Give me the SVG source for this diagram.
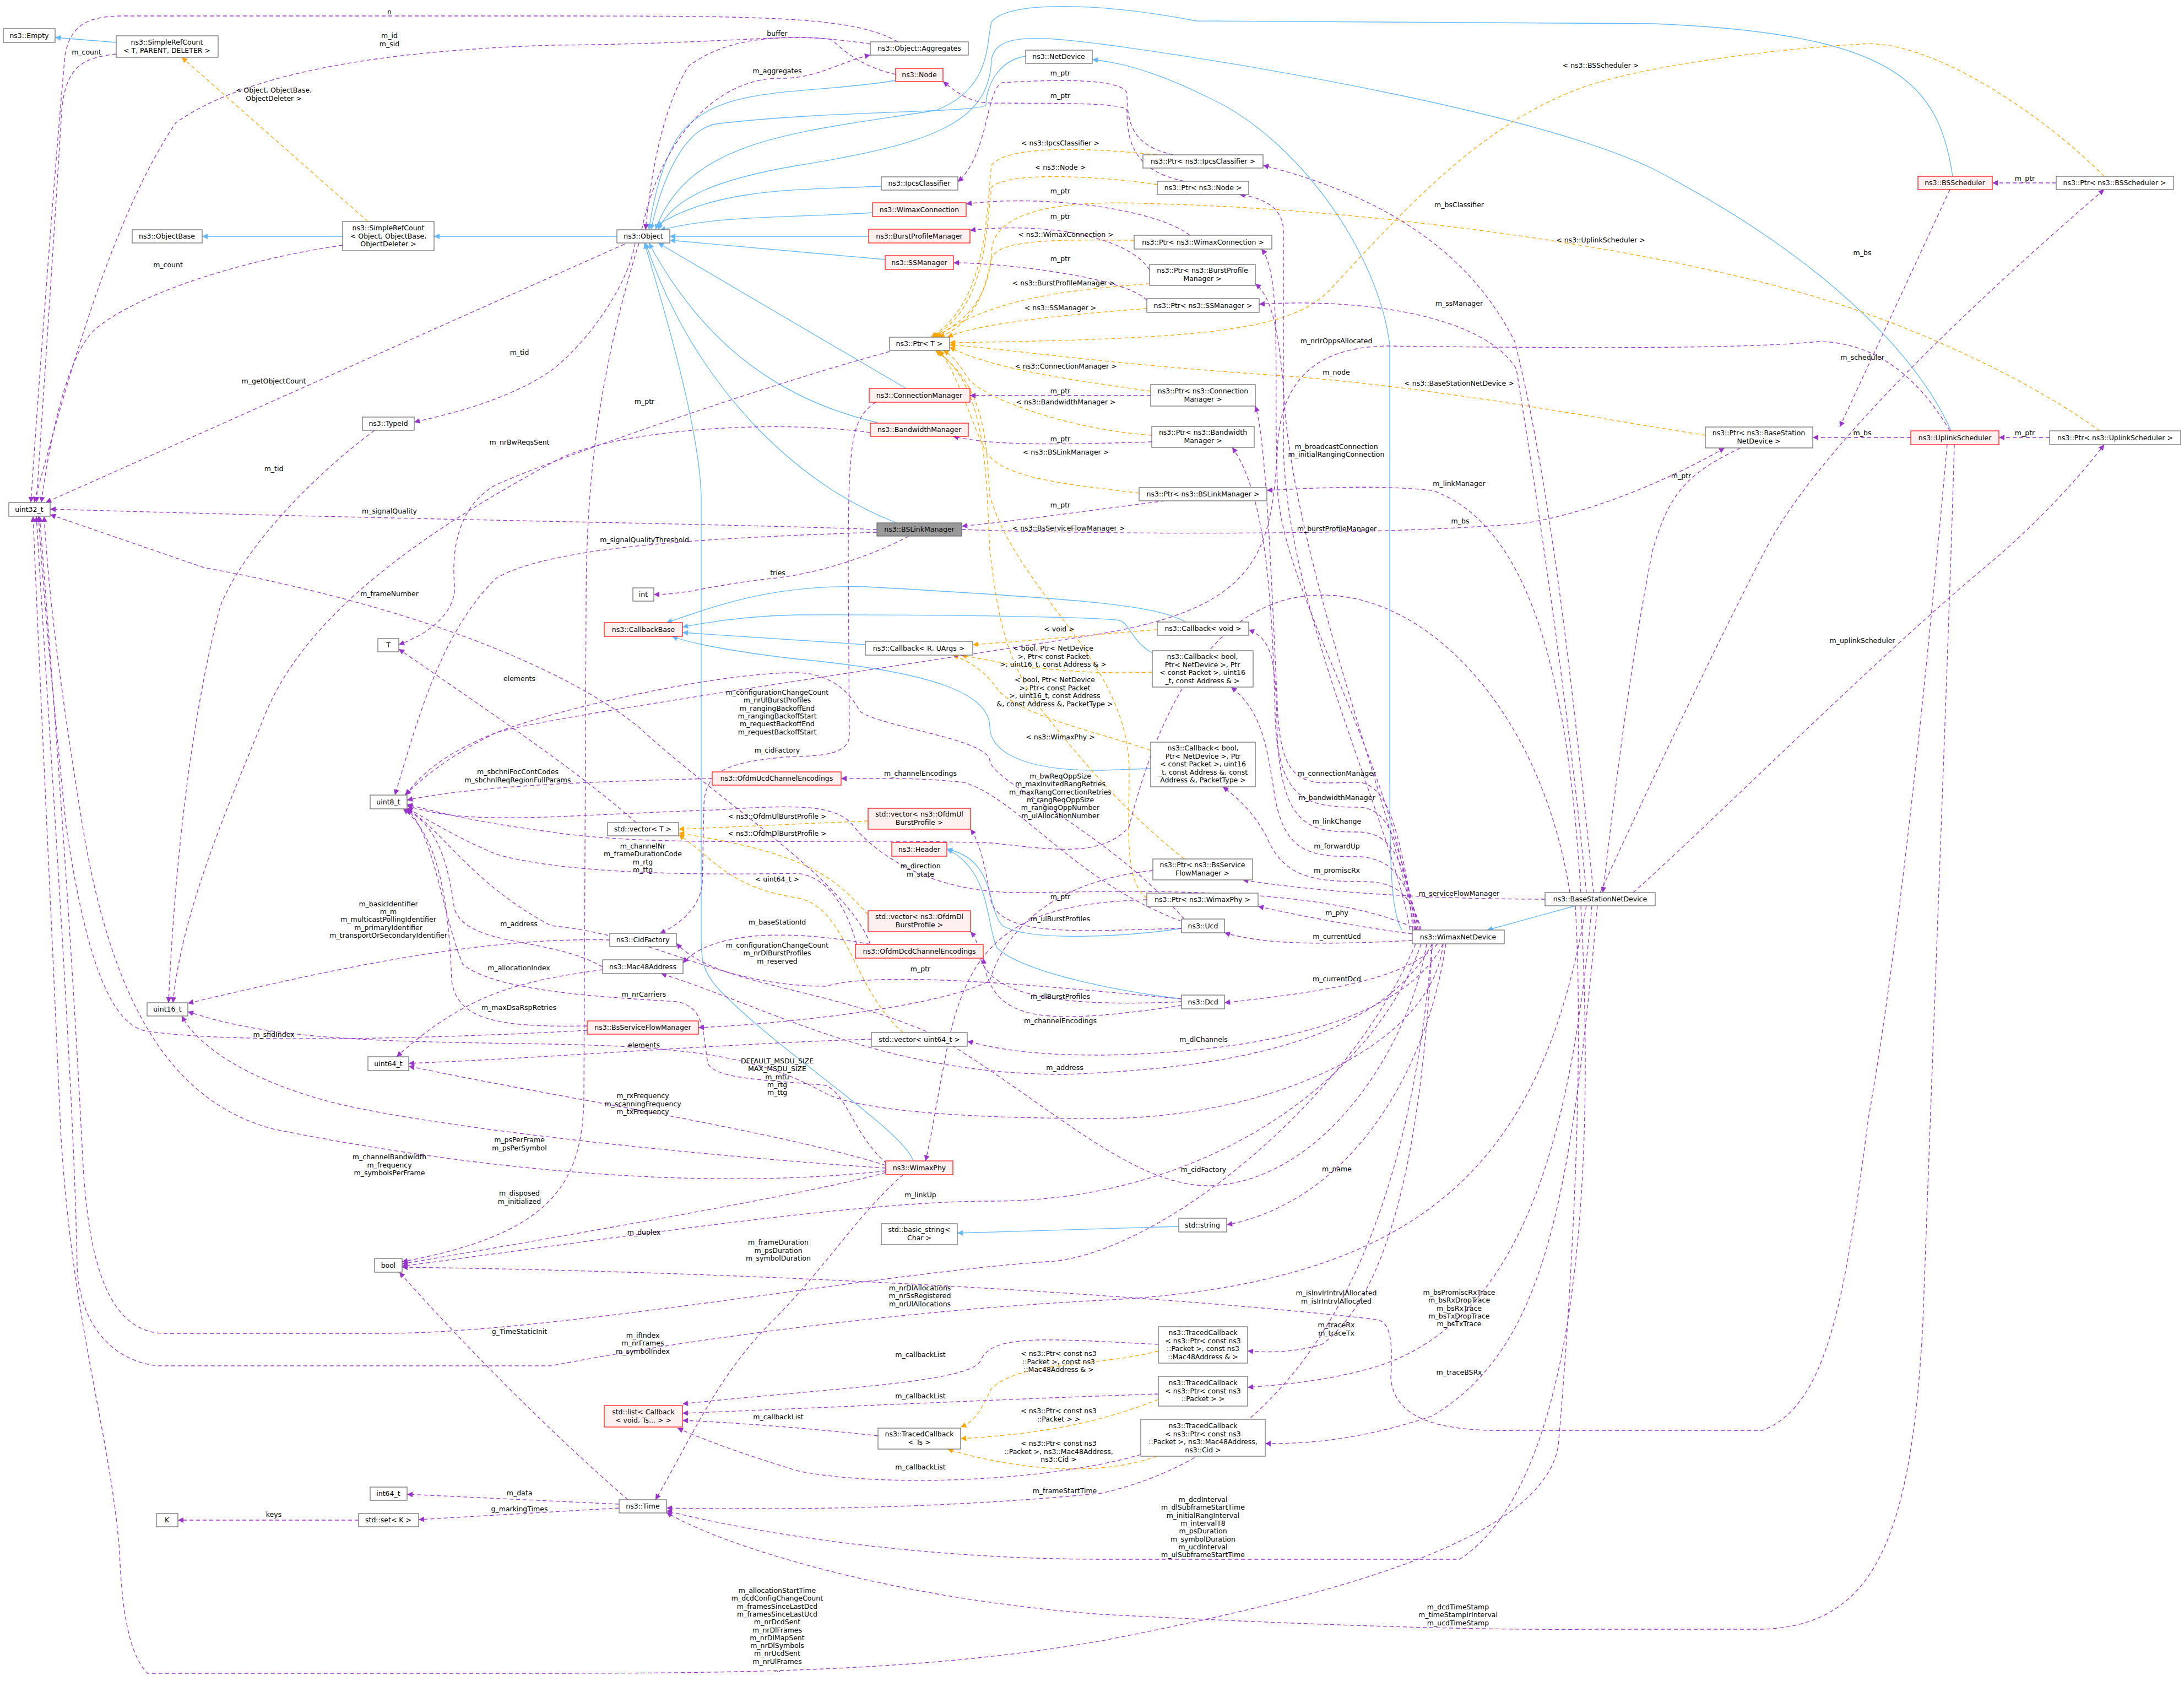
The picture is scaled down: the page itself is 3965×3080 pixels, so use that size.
<svg xmlns="http://www.w3.org/2000/svg" width="3965" height="3080" viewBox="0 0 3965 3080">
<style>
text{font-family:"DejaVu Sans","Liberation Sans",sans-serif;font-size:12.5px;fill:#000;text-anchor:middle}
.nd{fill:#fff;stroke:#666;stroke-width:1.2}
.rd{fill:#fff0f0;stroke:#f00;stroke-width:1.2}
.gy{fill:#999;stroke:#666;stroke-width:1.2}
.e{fill:none;stroke-width:1.3}
.b{stroke:#63b8ff;marker-end:url(#mb)}
.p{stroke:#9a32cd;stroke-dasharray:7,5;marker-end:url(#mp)}
.o{stroke:#ffa500;stroke-dasharray:7,5;marker-end:url(#mo)}
</style>
<defs>
<marker id="mb" viewBox="0 0 10 10" refX="10" refY="5" markerWidth="14" markerHeight="10" markerUnits="userSpaceOnUse" orient="auto"><path d="M0,0L10,5L0,10z" fill="#63b8ff"/></marker>
<marker id="mp" viewBox="0 0 10 10" refX="10" refY="5" markerWidth="14" markerHeight="10" markerUnits="userSpaceOnUse" orient="auto"><path d="M0,0L10,5L0,10z" fill="#9a32cd"/></marker>
<marker id="mo" viewBox="0 0 10 10" refX="10" refY="5" markerWidth="14" markerHeight="10" markerUnits="userSpaceOnUse" orient="auto"><path d="M0,0L10,5L0,10z" fill="#ffa500"/></marker>
</defs>
<rect width="3965" height="3080" fill="#fff"/>
<g id="connectors">
<path class="e b" d="M211,77 L100,68"/>
<path class="e b" d="M622,429 L367,429"/>
<path class="e b" d="M1120,429 L788,429"/>
<path class="e b" d="M1626,146 C1450,175 1300,150 1230,250 C1200,300 1185,370 1178,417"/>
<path class="e b" d="M1862,102 C1810,110 1790,160 1790,190 C1790,205 1500,200 1300,225 C1240,235 1200,330 1182,417"/>
<path class="e b" d="M2545,1688 C2528,1660 2523,1600 2523,1400 L2523,625 C2500,450 2350,250 2200,180 C2120,140 2050,115 1983,108"/>
<path class="e b" d="M3545,320 C3520,150 3440,60 3000,43 L2172,38 C2000,5 1830,0 1800,40 C1790,80 1800,160 1700,200 C1450,240 1250,250 1190,417"/>
<path class="e b" d="M3542,782 C3480,640 3300,460 3000,306 C2800,210 2300,120 2000,80 C1880,65 1805,60 1800,110 C1795,220 1700,260 1450,300 C1300,325 1220,360 1195,417"/>
<path class="e b" d="M1600,338 C1450,345 1300,340 1191,410"/>
<path class="e b" d="M1584,386 C1450,395 1300,390 1198,418"/>
<path class="e b" d="M1577,429 L1216,429"/>
<path class="e b" d="M1607,471 L1216,436"/>
<path class="e b" d="M1645,705 L1195,441"/>
<path class="e b" d="M1593,767 C1446,733 1290,650 1178,441"/>
<path class="e b" d="M1628,949 C1446,880 1260,700 1172,441"/>
<path class="e b" d="M1658,2107 C1640,2050 1400,1900 1300,1790 C1275,1760 1273,1740 1273,1700 L1273,900 C1270,800 1230,640 1170,441"/>
<path class="e b" d="M2145,1685 C2050,1700 1870,1710 1820,1680 C1790,1650 1810,1560 1719,1541"/>
<path class="e b" d="M2145,1813 C2000,1795 1850,1760 1810,1720 C1790,1680 1800,1580 1719,1541"/>
<path class="e b" d="M1571,1170 L1239,1148"/>
<path class="e b" d="M2153,1129 C2100,1100 2000,1089 1574,1065 C1400,1060 1300,1100 1210,1130"/>
<path class="e b" d="M2092,1185 C2055,1165 2050,1130 2032,1126 C2000,1120 1700,1115 1446,1116 C1350,1118 1280,1130 1239,1138"/>
<path class="e b" d="M2089,1395 L2000,1398 C1850,1400 1797,1360 1797,1320 C1797,1260 1700,1220 1446,1196 C1350,1185 1260,1170 1220,1155"/>
<path class="e b" d="M2860,1644 L2700,1688"/>
<path class="e b" d="M2140,2226 L1738,2238"/>
<path class="e o" d="M668,402 L330,104"/>
<path class="e o" d="M2100,281 C2000,270 1830,260 1800,300 C1790,400 1790,550 1690,612"/>
<path class="e o" d="M2101,335 C2000,320 1830,310 1800,340 C1790,420 1790,560 1692,612"/>
<path class="e o" d="M2059,436 C1950,436 1810,430 1800,470 C1790,540 1760,580 1695,612"/>
<path class="e o" d="M2087,515 C1950,525 1800,540 1700,612"/>
<path class="e o" d="M2082,560 C1950,570 1780,585 1720,612"/>
<path class="e o" d="M3820,320 C3700,200 3500,70 3380,80 C3200,90 3000,120 2900,150 C2700,210 2550,380 2420,520 C2350,600 2200,615 1724,622"/>
<path class="e o" d="M3812,782 C3700,700 3500,600 3300,540 C3000,450 2500,380 2100,370 C1900,360 1800,390 1800,460 C1790,540 1760,590 1705,612"/>
<path class="e o" d="M3096,790 C2900,760 2600,700 2300,680 C2000,660 1800,630 1724,626"/>
<path class="e o" d="M2089,710 C1950,690 1800,670 1724,630"/>
<path class="e o" d="M2091,790 C1950,780 1800,730 1760,690 C1740,660 1730,645 1712,636"/>
<path class="e o" d="M2068,895 C1950,880 1820,870 1790,820 C1760,760 1740,680 1705,636"/>
<path class="e o" d="M2150,1559 C2050,1480 1980,1400 1900,1300 C1820,1200 1810,1100 1797,1000 C1790,850 1790,700 1700,636"/>
<path class="e o" d="M2082,1630 C2040,1600 2050,1500 2050,1400 C2050,1200 1850,1080 1797,900 C1790,800 1790,700 1698,636"/>
<path class="e o" d="M2101,1143 C2000,1150 1850,1165 1766,1170"/>
<path class="e o" d="M2092,1220 C1950,1225 1850,1210 1745,1189"/>
<path class="e o" d="M2089,1362 C2000,1330 1850,1300 1810,1250 C1790,1220 1760,1200 1730,1189"/>
<path class="e o" d="M1576,1490 L1232,1505"/>
<path class="e o" d="M1576,1660 C1520,1600 1480,1550 1232,1512"/>
<path class="e o" d="M1640,1874 C1550,1800 1540,1650 1450,1630 C1320,1610 1300,1560 1232,1515"/>
<path class="e o" d="M2103,2452 C2000,2480 1850,2470 1800,2520 C1780,2560 1770,2580 1744,2590"/>
<path class="e o" d="M2103,2540 C2050,2560 1950,2600 1744,2611"/>
<path class="e o" d="M2100,2643 C2000,2680 1850,2670 1720,2630"/>
<path class="e p" d="M1630,76 C1550,30 1400,29 1000,29 L223,29 C160,29 128,45 118,100 C100,300 70,700 56,912"/>
<path class="e p" d="M1626,135 C1560,120 1530,90 1510,72 C1450,60 1300,80 1000,82 C700,92 450,130 319,223 C200,400 120,700 62,912"/>
<path class="e p" d="M211,98 C150,105 120,120 112,200 C100,400 80,700 66,912"/>
<path class="e p" d="M622,445 C450,470 250,530 170,600 C120,650 90,800 75,912"/>
<path class="e p" d="M1134,443 L83,912"/>
<path class="e p" d="M1153,441 C1140,520 1064,625 1000,673 C940,715 850,745 752,766"/>
<path class="e p" d="M680,781 C560,870 440,1000 400,1100 C360,1250 320,1500 306,1820"/>
<path class="e p" d="M1580,785 C1400,760 1100,780 1000,841 C800,950 560,1100 480,1300 C420,1450 330,1650 314,1820"/>
<path class="e p" d="M1615,638 C1383,701 1000,835 900,880 C830,920 820,1000 825,1060 C830,1110 780,1150 724,1170"/>
<path class="e p" d="M1592,961 C1300,950 800,945 91,924"/>
<path class="e p" d="M1592,966 C1300,976 1000,990 900,1050 C800,1150 760,1300 717,1443"/>
<path class="e p" d="M1650,973 C1600,1000 1500,1040 1400,1050 C1300,1060 1250,1079 1187,1079"/>
<path class="e p" d="M1580,1714 C1540,1600 1300,1450 1160,1320 C1050,1230 800,1110 370,1030 L91,934"/>
<path class="e p" d="M1590,730 C1545,760 1540,800 1540,1030 L1542,1336 C1540,1380 1450,1370 1415,1375 C1319,1385 1281,1400 1278,1460 L1275,1604 C1270,1650 1230,1680 1198,1694"/>
<path class="e p" d="M2590,1713 C2560,1900 2400,2150 2191,2152 C2050,2150 1900,2000 1700,1880 C1500,1790 1300,1790 1228,1712"/>
<path class="e p" d="M2150,1668 C2000,1500 1800,1420 1797,1380 C1790,1340 1600,1320 1561,1291 C1540,1250 1500,1221 1446,1221 C1300,1220 1000,1290 900,1330 C800,1380 760,1420 735,1443"/>
<path class="e p" d="M1293,1413 C1000,1420 850,1430 739,1452"/>
<path class="e p" d="M1555,1714 C1536,1642 1500,1590 1446,1585 C1200,1590 1000,1580 900,1550 C829,1520 780,1490 739,1466"/>
<path class="e p" d="M2575,1688 C2400,1600 2000,1620 1850,1620 C1700,1620 1600,1560 1550,1500 C1520,1460 1450,1460 1300,1470 C1000,1480 850,1500 739,1462"/>
<path class="e p" d="M1107,1706 C870,1700 600,1760 341,1821"/>
<path class="e p" d="M1094,1755 C1000,1700 850,1720 825,1650 C815,1580 800,1500 735,1468"/>
<path class="e p" d="M1094,1760 C950,1780 850,1800 720,1918"/>
<path class="e p" d="M1066,1862 C900,1865 830,1850 820,1780 C815,1650 800,1520 732,1468"/>
<path class="e p" d="M1066,1870 C800,1885 400,1895 260,1870 C190,1850 150,1700 120,1500 C100,1300 80,1100 70,937"/>
<path class="e p" d="M2600,1713 C2500,1900 2200,1940 1933,1950 C1600,1950 1400,1830 1200,1767"/>
<path class="e p" d="M1155,1493 C1050,1400 900,1300 724,1178"/>
<path class="e p" d="M1582,1886 C1300,1895 1000,1920 742,1930"/>
<path class="e p" d="M1610,2112 C1550,2060 1540,1990 1500,1970 C1400,1960 1300,1960 1285,1930 C1275,1870 1280,1830 1230,1818 C1100,1810 900,1800 840,1750 C800,1650 790,1520 739,1468"/>
<path class="e p" d="M2620,1713 C2600,1900 2300,2030 2000,2030 C1700,2030 1550,2010 1500,1985 C1400,1930 1300,1900 1000,1895 C700,1890 500,1890 341,1836"/>
<path class="e p" d="M1608,2115 C1400,2050 1000,1990 742,1935"/>
<path class="e p" d="M1608,2120 C1300,2100 800,2050 600,2000 C450,1960 360,1900 330,1844"/>
<path class="e p" d="M1608,2125 C1300,2160 900,2130 500,2050 C300,2000 200,1800 150,1500 C110,1250 90,1100 80,937"/>
<path class="e p" d="M1160,441 C1080,700 1064,900 1064,1100 L1060,2000 C1055,2150 1000,2240 730,2290"/>
<path class="e p" d="M1608,2128 C1500,2160 1100,2230 730,2294"/>
<path class="e p" d="M2580,1713 C2500,1950 2200,2180 1800,2180 C1550,2180 1100,2250 730,2298"/>
<path class="e p" d="M1640,2132 C1560,2200 1500,2300 1400,2400 C1300,2500 1250,2620 1190,2722"/>
<path class="e p" d="M1140,2722 C1000,2600 850,2450 725,2309"/>
<path class="e p" d="M2880,1644 C2800,2100 2600,2330 2000,2360 C1600,2380 1200,2440 1000,2479 L287,2479 C200,2470 145,2400 140,2300 C135,2000 100,1500 66,937"/>
<path class="e p" d="M2570,1713 C2450,2000 2100,2280 1900,2290 C1600,2310 1000,2420 700,2420 L300,2420 C200,2420 160,2300 150,2100 C130,1700 100,1300 72,937"/>
<path class="e p" d="M2103,2440 C1900,2430 1800,2420 1780,2470 C1760,2510 1500,2520 1239,2548"/>
<path class="e p" d="M2103,2530 C1800,2540 1500,2555 1239,2565"/>
<path class="e p" d="M1594,2606 C1450,2590 1300,2580 1239,2578"/>
<path class="e p" d="M2071,2640 C1900,2690 1600,2700 1450,2670 C1350,2640 1270,2610 1230,2592"/>
<path class="e p" d="M2600,1713 C2560,2200 2400,2620 2000,2710 C1700,2740 1400,2740 1210,2737"/>
<path class="e p" d="M2860,1644 C2880,2000 2840,2500 2829,2624 C2800,2800 2400,2900 2000,2978 C1700,3030 1400,3037 1000,3037 L268,3037 C230,3000 220,2900 217,2815 C200,2600 130,2400 110,2050 C95,1700 75,1300 60,937"/>
<path class="e p" d="M3548,807 C3540,1100 3520,1600 3491,2400 C3470,2800 3400,2950 3200,2957 L2900,2957 C2600,2960 2200,2940 2000,2930 C1600,2900 1300,2800 1210,2745"/>
<path class="e p" d="M3535,807 C3500,1200 3450,1700 3392,2030 C3350,2350 3320,2550 3200,2596 L2752,2596 C2600,2600 2530,2570 2525,2500 C2530,2420 2520,2400 2500,2395 C2200,2360 1500,2310 730,2300"/>
<path class="e p" d="M3540,782 C3480,680 3400,620 3300,620 C3200,630 3000,634 2517,628 C2400,630 2330,680 2320,800 C2310,1000 2290,1100 2000,1150 C1500,1230 1000,1300 900,1330 C800,1370 760,1410 737,1443"/>
<path class="e p" d="M3540,344 L3340,775"/>
<path class="e p" d="M3469,794 L3291,794"/>
<path class="e p" d="M3733,332 L3617,332"/>
<path class="e p" d="M3721,794 L3629,794"/>
<path class="e p" d="M2905,1620 C2960,1500 3100,1200 3204,1000 C3280,850 3500,620 3820,344"/>
<path class="e p" d="M2965,1620 C3100,1500 3400,1200 3603,1030 C3700,950 3780,860 3820,807"/>
<path class="e p" d="M3160,813 C3060,860 3029,899 3000,1000 C2960,1200 2930,1450 2910,1620"/>
<path class="e p" d="M1746,961 C2000,970 2500,973 2765,950 C2900,930 3050,860 3131,813"/>
<path class="e p" d="M2893,1620 C2860,1300 2820,900 2750,620 C2650,420 2450,340 2293,300"/>
<path class="e p" d="M2880,1620 C2850,1300 2790,900 2753,670 C2700,580 2500,540 2286,552"/>
<path class="e p" d="M2560,1688 C2530,1500 2330,1100 2330,800 L2330,420 C2330,380 2300,360 2250,353"/>
<path class="e p" d="M2565,1688 C2540,1400 2340,1100 2320,900 C2310,700 2330,500 2290,452"/>
<path class="e p" d="M2870,1620 C2850,1300 2800,960 2600,890 C2500,880 2400,885 2300,890"/>
<path class="e p" d="M2568,1688 C2540,1500 2340,1000 2330,700 C2320,600 2310,540 2279,515"/>
<path class="e p" d="M2570,1688 C2540,1500 2520,1430 2470,1420 C2380,1420 2330,1440 2320,1300 C2310,1100 2300,800 2279,737"/>
<path class="e p" d="M2572,1688 C2540,1520 2520,1470 2470,1465 C2380,1465 2320,1460 2315,1300 C2310,1100 2300,900 2237,812"/>
<path class="e p" d="M2575,1688 C2545,1540 2520,1515 2470,1510 C2380,1510 2320,1510 2318,1300 C2315,1200 2310,1160 2267,1143"/>
<path class="e p" d="M2578,1688 C2550,1580 2520,1560 2470,1555 C2380,1555 2335,1550 2315,1450 C2300,1350 2290,1290 2235,1247"/>
<path class="e p" d="M2580,1688 C2560,1610 2520,1600 2470,1600 C2380,1600 2330,1590 2300,1520 C2280,1480 2250,1450 2220,1428"/>
<path class="e p" d="M2805,1632 C2600,1632 2400,1620 2256,1597"/>
<path class="e p" d="M2564,1695 C2450,1680 2350,1660 2284,1645"/>
<path class="e p" d="M2564,1707 C2400,1715 2300,1715 2223,1693"/>
<path class="e p" d="M2610,1713 C2550,1780 2400,1800 2223,1820"/>
<path class="e p" d="M2620,1713 C2550,1850 2300,1910 2000,1915 C1850,1915 1800,1900 1756,1890"/>
<path class="e p" d="M2082,1633 C1850,1640 1760,1700 1720,1900 C1700,2000 1690,2070 1680,2107"/>
<path class="e p" d="M2145,1685 C1950,1690 1830,1700 1800,1640 C1790,1580 1780,1530 1762,1505"/>
<path class="e p" d="M2093,1580 C1900,1600 1820,1700 1797,1780 C1700,1830 1400,1860 1268,1865"/>
<path class="e p" d="M2145,1818 C1900,1830 1800,1800 1780,1740 C1775,1710 1770,1700 1762,1691"/>
<path class="e p" d="M2145,1825 C1900,1860 1800,1860 1785,1739"/>
<path class="e p" d="M2145,1672 C1950,1600 1850,1450 1750,1420 C1650,1410 1580,1413 1527,1413"/>
<path class="e p" d="M2850,1620 C2800,1300 2600,1080 2400,1080 C2200,1080 2100,1300 2050,1500 C2000,1560 1900,1540 1800,1530 C1500,1520 1200,1540 1000,1510 C850,1490 800,1475 739,1460"/>
<path class="e p" d="M1580,1714 C1400,1680 1280,1700 1240,1748"/>
<path class="e p" d="M2145,1813 C1900,1790 1600,1760 1500,1790 C1300,1790 1200,1700 1000,1680 C850,1600 800,1500 737,1468"/>
<path class="e p" d="M2130,281 C2060,265 2046,230 2046,170 C2040,140 1900,145 1820,150 C1790,160 1795,280 1739,330"/>
<path class="e p" d="M2150,329 C2060,310 2046,260 2046,200 C2040,185 1900,188 1800,187 C1760,186 1740,170 1712,148"/>
<path class="e p" d="M2160,427 C2100,380 1900,352 1754,370"/>
<path class="e p" d="M2087,490 C2050,430 1900,402 1761,418"/>
<path class="e p" d="M2082,545 C2040,500 1800,476 1731,477"/>
<path class="e p" d="M2089,718 L1761,718"/>
<path class="e p" d="M2091,802 C1900,808 1800,808 1730,792"/>
<path class="e p" d="M2115,909 C1950,930 1850,945 1746,955"/>
<path class="e p" d="M1580,80 C1450,60 1330,60 1250,120 C1200,200 1180,330 1172,417"/>
<path class="e p" d="M1165,417 C1200,250 1300,145 1411,142 C1480,145 1530,110 1580,100"/>
<path class="e p" d="M1124,2737 L760,2758"/>
<path class="e p" d="M1124,2730 L739,2712"/>
<path class="e p" d="M651,2759 L323,2759"/>
<path class="e p" d="M2870,1644 C2900,2200 2850,2700 2650,2830 L2000,2830 C1700,2830 1400,2790 1210,2742"/>
<path class="e p" d="M2890,1644 C2850,2100 2750,2400 2500,2480 C2400,2510 2300,2515 2265,2518"/>
<path class="e p" d="M2900,1644 C2850,2200 2800,2450 2600,2570 C2450,2620 2350,2620 2297,2620"/>
<path class="e p" d="M2600,1713 C2580,2100 2520,2350 2400,2440 C2350,2455 2300,2455 2265,2452"/>
<path class="e p" d="M2625,1713 C2590,1950 2450,2180 2227,2223"/>
</g>
<g id="labels">
<text x="707" y="26">n</text>
<text x="707" y="69">m_id<tspan x="707" dy="14.5">m_sid</tspan></text>
<text x="157" y="99">m_count</text>
<text x="497" y="168">&lt; Object, ObjectBase,<tspan x="497" dy="14.5">ObjectDeleter &gt;</tspan></text>
<text x="305" y="485">m_count</text>
<text x="497" y="696">m_getObjectCount</text>
<text x="943" y="644">m_tid</text>
<text x="497" y="855">m_tid</text>
<text x="943" y="807">m_nrBwReqsSent</text>
<text x="1170" y="733">m_ptr</text>
<text x="707" y="932">m_signalQuality</text>
<text x="1170" y="984">m_signalQualityThreshold</text>
<text x="1412" y="1044">tries</text>
<text x="707" y="1082">m_frameNumber</text>
<text x="1411" y="1366">m_cidFactory</text>
<text x="2185" y="2127">m_cidFactory</text>
<text x="1411" y="1261">m_configurationChangeCount<tspan x="1411" dy="14.3">m_nrUlBurstProfiles</tspan><tspan x="1411" dy="14.3">m_rangingBackoffEnd</tspan><tspan x="1411" dy="14.3">m_rangingBackoffStart</tspan><tspan x="1411" dy="14.3">m_requestBackoffEnd</tspan><tspan x="1411" dy="14.3">m_requestBackoffStart</tspan></text>
<text x="940" y="1405">m_sbchnlFocContCodes<tspan x="940" dy="14.5">m_sbchnlReqRegionFullParams</tspan></text>
<text x="1167" y="1540">m_channelNr<tspan x="1167" dy="14.3">m_frameDurationCode</tspan><tspan x="1167" dy="14.3">m_rtg</tspan><tspan x="1167" dy="14.3">m_ttg</tspan></text>
<text x="1671" y="1576">m_direction<tspan x="1671" dy="14.5">m_state</tspan></text>
<text x="705" y="1645">m_basicIdentifier<tspan x="705" dy="14.2">m_m</tspan><tspan x="705" dy="14.2">m_multicastPollingIdentifier</tspan><tspan x="705" dy="14.2">m_primaryIdentifier</tspan><tspan x="705" dy="14.2">m_transportOrSecondaryIdentifier</tspan></text>
<text x="942" y="1681">m_address</text>
<text x="942" y="1761">m_allocationIndex</text>
<text x="942" y="1833">m_maxDsaRspRetries</text>
<text x="497" y="1882">m_sfidIndex</text>
<text x="1933" y="1942">m_address</text>
<text x="943" y="1236">elements</text>
<text x="1169" y="1901">elements</text>
<text x="1169" y="1809">m_nrCarriers</text>
<text x="1411" y="1930">DEFAULT_MSDU_SIZE<tspan x="1411" dy="14.3">MAX_MSDU_SIZE</tspan><tspan x="1411" dy="14.3">m_mtu</tspan><tspan x="1411" dy="14.3">m_rtg</tspan><tspan x="1411" dy="14.3">m_ttg</tspan></text>
<text x="1167" y="1993">m_rxFrequency<tspan x="1167" dy="14.5">m_scanningFrequency</tspan><tspan x="1167" dy="14.5">m_txFrequency</tspan></text>
<text x="943" y="2073">m_psPerFrame<tspan x="943" dy="14.5">m_psPerSymbol</tspan></text>
<text x="707" y="2104">m_channelBandwidth<tspan x="707" dy="14.5">m_frequency</tspan><tspan x="707" dy="14.5">m_symbolsPerFrame</tspan></text>
<text x="943" y="2170">m_disposed<tspan x="943" dy="14.5">m_initialized</tspan></text>
<text x="1169" y="2241">m_duplex</text>
<text x="1671" y="2173">m_linkUp</text>
<text x="1413" y="2259">m_frameDuration<tspan x="1413" dy="14.5">m_psDuration</tspan><tspan x="1413" dy="14.5">m_symbolDuration</tspan></text>
<text x="943" y="2421">g_TimeStaticInit</text>
<text x="1670" y="2342">m_nrDlAllocations<tspan x="1670" dy="14.3">m_nrSsRegistered</tspan><tspan x="1670" dy="14.3">m_nrUlAllocations</tspan></text>
<text x="1167" y="2428">m_ifIndex<tspan x="1167" dy="14.3">m_nrFrames</tspan><tspan x="1167" dy="14.3">m_symbolIndex</tspan></text>
<text x="1671" y="2463">m_callbackList</text>
<text x="1671" y="2538">m_callbackList</text>
<text x="1413" y="2576">m_callbackList</text>
<text x="1671" y="2667">m_callbackList</text>
<text x="1922" y="2461">&lt; ns3::Ptr&lt; const ns3<tspan x="1922" dy="14.5">::Packet &gt;, const ns3</tspan><tspan x="1922" dy="14.5">::Mac48Address &amp; &gt;</tspan></text>
<text x="1922" y="2565">&lt; ns3::Ptr&lt; const ns3<tspan x="1922" dy="14.5">::Packet &gt; &gt;</tspan></text>
<text x="1922" y="2624">&lt; ns3::Ptr&lt; const ns3<tspan x="1922" dy="14.5">::Packet &gt;, ns3::Mac48Address,</tspan><tspan x="1922" dy="14.5">ns3::Cid &gt;</tspan></text>
<text x="1933" y="2710">m_frameStartTime</text>
<text x="1411" y="2891">m_allocationStartTime<tspan x="1411" dy="14.3">m_dcdConfigChangeCount</tspan><tspan x="1411" dy="14.3">m_framesSinceLastDcd</tspan><tspan x="1411" dy="14.3">m_framesSinceLastUcd</tspan><tspan x="1411" dy="14.3">m_nrDcdSent</tspan><tspan x="1411" dy="14.3">m_nrDlFrames</tspan><tspan x="1411" dy="14.3">m_nrDlMapSent</tspan><tspan x="1411" dy="14.3">m_nrDlSymbols</tspan><tspan x="1411" dy="14.3">m_nrUcdSent</tspan><tspan x="1411" dy="14.3">m_nrUlFrames</tspan><tspan x="1411" dy="14.3">...</tspan></text>
<text x="2647" y="2921">m_dcdTimeStamp<tspan x="2647" dy="14.3">m_timeStampIrInterval</tspan><tspan x="2647" dy="14.3">m_ucdTimeStamp</tspan></text>
<text x="2426" y="2351">m_isInvIrIntrvlAllocated<tspan x="2426" dy="14.5">m_isIrIntrvlAllocated</tspan></text>
<text x="2426" y="623">m_nrIrOppsAllocated</text>
<text x="3381" y="463">m_bs</text>
<text x="3381" y="790">m_bs</text>
<text x="3676" y="328">m_ptr</text>
<text x="3676" y="790">m_ptr</text>
<text x="3381" y="653">m_scheduler</text>
<text x="3381" y="1167">m_uplinkScheduler</text>
<text x="3052" y="868">m_ptr</text>
<text x="2651" y="950">m_bs</text>
<text x="2649" y="376">m_bsClassifier</text>
<text x="2649" y="555">m_ssManager</text>
<text x="2426" y="680">m_node</text>
<text x="2426" y="815">m_broadcastConnection<tspan x="2426" dy="14.3">m_initialRangingConnection</tspan></text>
<text x="2649" y="882">m_linkManager</text>
<text x="2427" y="964">m_burstProfileManager</text>
<text x="2427" y="1408">m_connectionManager</text>
<text x="2427" y="1452">m_bandwidthManager</text>
<text x="2427" y="1495">m_linkChange</text>
<text x="2427" y="1540">m_forwardUp</text>
<text x="2427" y="1584">m_promiscRx</text>
<text x="2649" y="1626">m_serviceFlowManager</text>
<text x="2427" y="1661">m_phy</text>
<text x="2427" y="1704">m_currentUcd</text>
<text x="2427" y="1781">m_currentDcd</text>
<text x="2185" y="1891">m_dlChannels</text>
<text x="1925" y="1632">m_ptr</text>
<text x="1925" y="1672">m_ulBurstProfiles</text>
<text x="1671" y="1763">m_ptr</text>
<text x="1925" y="1813">m_dlBurstProfiles</text>
<text x="1925" y="1857">m_channelEncodings</text>
<text x="1671" y="1408">m_channelEncodings</text>
<text x="1925" y="1413">m_bwReqOppSize<tspan x="1925" dy="14.3">m_maxInvitedRangRetries</tspan><tspan x="1925" dy="14.3">m_maxRangCorrectionRetries</tspan><tspan x="1925" dy="14.3">m_rangReqOppSize</tspan><tspan x="1925" dy="14.3">m_rangingOppNumber</tspan><tspan x="1925" dy="14.3">m_ulAllocationNumber</tspan></text>
<text x="1411" y="1678">m_baseStationId</text>
<text x="1411" y="1720">m_configurationChangeCount<tspan x="1411" dy="14.3">m_nrDlBurstProfiles</tspan><tspan x="1411" dy="14.3">m_reserved</tspan></text>
<text x="1925" y="137">m_ptr</text>
<text x="1925" y="178">m_ptr</text>
<text x="1925" y="351">m_ptr</text>
<text x="1925" y="397">m_ptr</text>
<text x="1925" y="474">m_ptr</text>
<text x="1925" y="714">m_ptr</text>
<text x="1925" y="801">m_ptr</text>
<text x="1925" y="921">m_ptr</text>
<text x="1411" y="65">buffer</text>
<text x="1411" y="133">m_aggregates</text>
<text x="943" y="2743">g_markingTimes</text>
<text x="943" y="2714">m_data</text>
<text x="497" y="2753">keys</text>
<text x="2184" y="2726">m_dcdInterval<tspan x="2184" dy="14.3">m_dlSubframeStartTime</tspan><tspan x="2184" dy="14.3">m_initialRangInterval</tspan><tspan x="2184" dy="14.3">m_intervalT8</tspan><tspan x="2184" dy="14.3">m_psDuration</tspan><tspan x="2184" dy="14.3">m_symbolDuration</tspan><tspan x="2184" dy="14.3">m_ucdInterval</tspan><tspan x="2184" dy="14.3">m_ulSubframeStartTime</tspan></text>
<text x="2649" y="2350">m_bsPromiscRxTrace<tspan x="2649" dy="14.3">m_bsRxDropTrace</tspan><tspan x="2649" dy="14.3">m_bsRxTrace</tspan><tspan x="2649" dy="14.3">m_bsTxDropTrace</tspan><tspan x="2649" dy="14.3">m_bsTxTrace</tspan></text>
<text x="2649" y="2495">m_traceBSRx</text>
<text x="2426" y="2409">m_traceRx<tspan x="2426" dy="14.5">m_traceTx</tspan></text>
<text x="2427" y="2126">m_name</text>
<text x="1925" y="264">&lt; ns3::IpcsClassifier &gt;</text>
<text x="1925" y="308">&lt; ns3::Node &gt;</text>
<text x="1935" y="430">&lt; ns3::WimaxConnection &gt;</text>
<text x="1931" y="518">&lt; ns3::BurstProfileManager &gt;</text>
<text x="1925" y="563">&lt; ns3::SSManager &gt;</text>
<text x="1935" y="669">&lt; ns3::ConnectionManager &gt;</text>
<text x="1935" y="734">&lt; ns3::BandwidthManager &gt;</text>
<text x="1935" y="825">&lt; ns3::BSLinkManager &gt;</text>
<text x="1940" y="963">&lt; ns3::BsServiceFlowManager &gt;</text>
<text x="2906" y="123">&lt; ns3::BSScheduler &gt;</text>
<text x="2906" y="440">&lt; ns3::UplinkScheduler &gt;</text>
<text x="2649" y="700">&lt; ns3::BaseStationNetDevice &gt;</text>
<text x="1925" y="1342">&lt; ns3::WimaxPhy &gt;</text>
<text x="1923" y="1146">&lt; void &gt;</text>
<text x="1912" y="1181">&lt; bool, Ptr&lt; NetDevice<tspan x="1912" dy="14.5">&gt;, Ptr&lt; const Packet</tspan><tspan x="1912" dy="14.5">&gt;, uint16_t, const Address &amp; &gt;</tspan></text>
<text x="1915" y="1238">&lt; bool, Ptr&lt; NetDevice<tspan x="1915" dy="14.5">&gt;, Ptr&lt; const Packet</tspan><tspan x="1915" dy="14.5">&gt;, uint16_t, const Address</tspan><tspan x="1915" dy="14.5">&amp;, const Address &amp;, PacketType &gt;</tspan></text>
<text x="1411" y="1486">&lt; ns3::OfdmUlBurstProfile &gt;</text>
<text x="1411" y="1517">&lt; ns3::OfdmDlBurstProfile &gt;</text>
<text x="1411" y="1600">&lt; uint64_t &gt;</text>
</g>
<g id="n_empty"><rect class="nd" x="6" y="52" width="94" height="25"/><text x="53" y="69">ns3::Empty</text></g>
<g id="n_srct"><rect class="nd" x="211" y="65" width="185" height="39"/><text x="303" y="81">ns3::SimpleRefCount<tspan x="303" dy="14.5">&lt; T, PARENT, DELETER &gt;</tspan></text></g>
<g id="n_objectbase"><rect class="nd" x="240" y="417" width="127" height="24"/><text x="303" y="433">ns3::ObjectBase</text></g>
<g id="n_srco"><rect class="nd" x="622" y="402" width="166" height="53"/><text x="705" y="418">ns3::SimpleRefCount<tspan x="705" dy="14.5">&lt; Object, ObjectBase,</tspan><tspan x="705" dy="14.5">ObjectDeleter &gt;</tspan></text></g>
<g id="n_typeid"><rect class="nd" x="658" y="757" width="94" height="24"/><text x="705" y="773">ns3::TypeId</text></g>
<g id="n_uint32"><rect class="nd" x="16" y="912" width="75" height="25"/><text x="53" y="929">uint32_t</text></g>
<g id="n_aggregates"><rect class="nd" x="1580" y="76" width="178" height="24"/><text x="1669" y="92">ns3::Object::Aggregates</text></g>
<g id="n_node"><rect class="rd" x="1626" y="124" width="86" height="24"/><text x="1669" y="140">ns3::Node</text></g>
<g id="n_netdevice"><rect class="nd" x="1862" y="91" width="121" height="24"/><text x="1922" y="107">ns3::NetDevice</text></g>
<g id="n_ipcs"><rect class="nd" x="1600" y="321" width="139" height="24"/><text x="1669" y="337">ns3::IpcsClassifier</text></g>
<g id="n_wimaxconn"><rect class="rd" x="1584" y="368" width="170" height="25"/><text x="1669" y="385">ns3::WimaxConnection</text></g>
<g id="n_object"><rect class="nd" x="1120" y="417" width="96" height="24"/><text x="1168" y="433">ns3::Object</text></g>
<g id="n_bpm"><rect class="rd" x="1577" y="416" width="184" height="25"/><text x="1669" y="433">ns3::BurstProfileManager</text></g>
<g id="n_ssm"><rect class="rd" x="1607" y="464" width="124" height="25"/><text x="1669" y="481">ns3::SSManager</text></g>
<g id="n_ptrt"><rect class="nd" x="1615" y="612" width="109" height="24"/><text x="1669" y="628">ns3::Ptr&lt; T &gt;</text></g>
<g id="n_connmgr"><rect class="rd" x="1578" y="705" width="183" height="25"/><text x="1669" y="722">ns3::ConnectionManager</text></g>
<g id="n_bwmgr"><rect class="rd" x="1580" y="768" width="178" height="24"/><text x="1669" y="784">ns3::BandwidthManager</text></g>
<g id="n_bslink"><rect class="gy" x="1592" y="949" width="154" height="24"/><text x="1669" y="965">ns3::BSLinkManager</text></g>
<g id="n_ptripcs"><rect class="nd" x="2075" y="281" width="218" height="24"/><text x="2184" y="297">ns3::Ptr&lt; ns3::IpcsClassifier &gt;</text></g>
<g id="n_ptrnode"><rect class="nd" x="2101" y="329" width="166" height="24"/><text x="2184" y="345">ns3::Ptr&lt; ns3::Node &gt;</text></g>
<g id="n_ptrwc"><rect class="nd" x="2059" y="427" width="250" height="25"/><text x="2184" y="444">ns3::Ptr&lt; ns3::WimaxConnection &gt;</text></g>
<g id="n_ptrbpm"><rect class="nd" x="2087" y="480" width="192" height="38"/><text x="2183" y="495">ns3::Ptr&lt; ns3::BurstProfile<tspan x="2183" dy="14.5">Manager &gt;</tspan></text></g>
<g id="n_ptrss"><rect class="nd" x="2082" y="542" width="204" height="25"/><text x="2184" y="559">ns3::Ptr&lt; ns3::SSManager &gt;</text></g>
<g id="n_ptrcm"><rect class="nd" x="2089" y="698" width="190" height="39"/><text x="2184" y="714">ns3::Ptr&lt; ns3::Connection<tspan x="2184" dy="14.5">Manager &gt;</tspan></text></g>
<g id="n_ptrbm"><rect class="nd" x="2091" y="774" width="186" height="38"/><text x="2184" y="789">ns3::Ptr&lt; ns3::Bandwidth<tspan x="2184" dy="14.5">Manager &gt;</tspan></text></g>
<g id="n_ptrbsl"><rect class="nd" x="2068" y="885" width="232" height="24"/><text x="2184" y="901">ns3::Ptr&lt; ns3::BSLinkManager &gt;</text></g>
<g id="n_bssched"><rect class="rd" x="3482" y="320" width="135" height="24"/><text x="3549" y="336">ns3::BSScheduler</text></g>
<g id="n_ptrbss"><rect class="nd" x="3733" y="320" width="213" height="24"/><text x="3839" y="336">ns3::Ptr&lt; ns3::BSScheduler &gt;</text></g>
<g id="n_ptrbsnd"><rect class="nd" x="3096" y="775" width="195" height="38"/><text x="3193" y="790">ns3::Ptr&lt; ns3::BaseStation<tspan x="3193" dy="14.5">NetDevice &gt;</tspan></text></g>
<g id="n_uplsched"><rect class="rd" x="3469" y="782" width="160" height="25"/><text x="3549" y="799">ns3::UplinkScheduler</text></g>
<g id="n_ptrupl"><rect class="nd" x="3721" y="782" width="238" height="25"/><text x="3840" y="799">ns3::Ptr&lt; ns3::UplinkScheduler &gt;</text></g>
<g id="n_t"><rect class="nd" x="686" y="1159" width="38" height="24"/><text x="705" y="1175">T</text></g>
<g id="n_uint8"><rect class="nd" x="672" y="1443" width="67" height="25"/><text x="705" y="1460">uint8_t</text></g>
<g id="n_uint16"><rect class="nd" x="267" y="1820" width="74" height="24"/><text x="304" y="1836">uint16_t</text></g>
<g id="n_uint64"><rect class="nd" x="668" y="1918" width="74" height="25"/><text x="705" y="1935">uint64_t</text></g>
<g id="n_int"><rect class="nd" x="1149" y="1067" width="38" height="24"/><text x="1168" y="1083">int</text></g>
<g id="n_cbbase"><rect class="rd" x="1097" y="1130" width="142" height="25"/><text x="1168" y="1147">ns3::CallbackBase</text></g>
<g id="n_cbru"><rect class="nd" x="1571" y="1164" width="195" height="25"/><text x="1668" y="1181">ns3::Callback&lt; R, UArgs &gt;</text></g>
<g id="n_ofdmucd"><rect class="rd" x="1293" y="1401" width="234" height="24"/><text x="1410" y="1417">ns3::OfdmUcdChannelEncodings</text></g>
<g id="n_vecul"><rect class="rd" x="1576" y="1467" width="186" height="38"/><text x="1669" y="1482">std::vector&lt; ns3::OfdmUl<tspan x="1669" dy="14.5">BurstProfile &gt;</tspan></text></g>
<g id="n_vect"><rect class="nd" x="1103" y="1493" width="129" height="24"/><text x="1167" y="1509">std::vector&lt; T &gt;</text></g>
<g id="n_header"><rect class="rd" x="1619" y="1529" width="100" height="25"/><text x="1669" y="1546">ns3::Header</text></g>
<g id="n_vecdl"><rect class="rd" x="1576" y="1653" width="186" height="38"/><text x="1669" y="1668">std::vector&lt; ns3::OfdmDl<tspan x="1669" dy="14.5">BurstProfile &gt;</tspan></text></g>
<g id="n_cidfactory"><rect class="nd" x="1107" y="1694" width="121" height="24"/><text x="1167" y="1710">ns3::CidFactory</text></g>
<g id="n_ofdmdcd"><rect class="rd" x="1553" y="1714" width="232" height="25"/><text x="1669" y="1731">ns3::OfdmDcdChannelEncodings</text></g>
<g id="n_mac48"><rect class="nd" x="1094" y="1742" width="146" height="25"/><text x="1167" y="1759">ns3::Mac48Address</text></g>
<g id="n_bssfm"><rect class="rd" x="1066" y="1853" width="202" height="24"/><text x="1167" y="1869">ns3::BsServiceFlowManager</text></g>
<g id="n_vecu64"><rect class="nd" x="1582" y="1874" width="174" height="25"/><text x="1669" y="1891">std::vector&lt; uint64_t &gt;</text></g>
<g id="n_cbvoid"><rect class="nd" x="2101" y="1129" width="166" height="24"/><text x="2184" y="1145">ns3::Callback&lt; void &gt;</text></g>
<g id="n_cbbool4"><rect class="nd" x="2092" y="1181" width="183" height="66"/><text x="2183" y="1196">ns3::Callback&lt; bool,<tspan x="2183" dy="14.5">Ptr&lt; NetDevice &gt;, Ptr</tspan><tspan x="2183" dy="14.5">&lt; const Packet &gt;, uint16</tspan><tspan x="2183" dy="14.5">_t, const Address &amp; &gt;</tspan></text></g>
<g id="n_cbbool5"><rect class="nd" x="2089" y="1347" width="190" height="81"/><text x="2184" y="1362">ns3::Callback&lt; bool,<tspan x="2184" dy="14.5">Ptr&lt; NetDevice &gt;, Ptr</tspan><tspan x="2184" dy="14.5">&lt; const Packet &gt;, uint16</tspan><tspan x="2184" dy="14.5">_t, const Address &amp;, const</tspan><tspan x="2184" dy="14.5">Address &amp;, PacketType &gt;</tspan></text></g>
<g id="n_ptrbssfm"><rect class="nd" x="2093" y="1559" width="181" height="38"/><text x="2183" y="1574">ns3::Ptr&lt; ns3::BsService<tspan x="2183" dy="14.5">FlowManager &gt;</tspan></text></g>
<g id="n_ptrphy"><rect class="nd" x="2082" y="1621" width="202" height="24"/><text x="2183" y="1637">ns3::Ptr&lt; ns3::WimaxPhy &gt;</text></g>
<g id="n_ucd"><rect class="nd" x="2145" y="1668" width="78" height="25"/><text x="2184" y="1685">ns3::Ucd</text></g>
<g id="n_bsnd"><rect class="nd" x="2805" y="1620" width="200" height="24"/><text x="2905" y="1636">ns3::BaseStationNetDevice</text></g>
<g id="n_wnd"><rect class="nd" x="2564" y="1688" width="167" height="25"/><text x="2647" y="1705">ns3::WimaxNetDevice</text></g>
<g id="n_dcd"><rect class="nd" x="2145" y="1806" width="78" height="25"/><text x="2184" y="1823">ns3::Dcd</text></g>
<g id="n_bool"><rect class="nd" x="680" y="2284" width="50" height="25"/><text x="705" y="2301">bool</text></g>
<g id="n_int64"><rect class="nd" x="672" y="2699" width="67" height="24"/><text x="705" y="2715">int64_t</text></g>
<g id="n_k"><rect class="nd" x="284" y="2747" width="39" height="24"/><text x="303" y="2763">K</text></g>
<g id="n_setk"><rect class="nd" x="651" y="2747" width="109" height="24"/><text x="705" y="2763">std::set&lt; K &gt;</text></g>
<g id="n_wimaxphy"><rect class="rd" x="1608" y="2107" width="122" height="25"/><text x="1669" y="2124">ns3::WimaxPhy</text></g>
<g id="n_basicstring"><rect class="nd" x="1600" y="2221" width="138" height="38"/><text x="1669" y="2236">std::basic_string&lt;<tspan x="1669" dy="14.5">Char &gt;</tspan></text></g>
<g id="n_listcb"><rect class="rd" x="1097" y="2551" width="142" height="39"/><text x="1168" y="2567">std::list&lt; Callback<tspan x="1168" dy="14.5">&lt; void, Ts... &gt; &gt;</tspan></text></g>
<g id="n_tcts"><rect class="nd" x="1594" y="2592" width="150" height="38"/><text x="1669" y="2607">ns3::TracedCallback<tspan x="1669" dy="14.5">&lt; Ts &gt;</tspan></text></g>
<g id="n_time"><rect class="nd" x="1124" y="2722" width="86" height="24"/><text x="1167" y="2738">ns3::Time</text></g>
<g id="n_string"><rect class="nd" x="2140" y="2211" width="87" height="25"/><text x="2183" y="2228">std::string</text></g>
<g id="n_tc1"><rect class="nd" x="2103" y="2408" width="162" height="66"/><text x="2184" y="2423">ns3::TracedCallback<tspan x="2184" dy="14.5">&lt; ns3::Ptr&lt; const ns3</tspan><tspan x="2184" dy="14.5">::Packet &gt;, const ns3</tspan><tspan x="2184" dy="14.5">::Mac48Address &amp; &gt;</tspan></text></g>
<g id="n_tc2"><rect class="nd" x="2103" y="2498" width="162" height="54"/><text x="2184" y="2514">ns3::TracedCallback<tspan x="2184" dy="14.5">&lt; ns3::Ptr&lt; const ns3</tspan><tspan x="2184" dy="14.5">::Packet &gt; &gt;</tspan></text></g>
<g id="n_tc3"><rect class="nd" x="2071" y="2576" width="226" height="67"/><text x="2184" y="2592">ns3::TracedCallback<tspan x="2184" dy="14.5">&lt; ns3::Ptr&lt; const ns3</tspan><tspan x="2184" dy="14.5">::Packet &gt;, ns3::Mac48Address,</tspan><tspan x="2184" dy="14.5">ns3::Cid &gt;</tspan></text></g>
</svg>
